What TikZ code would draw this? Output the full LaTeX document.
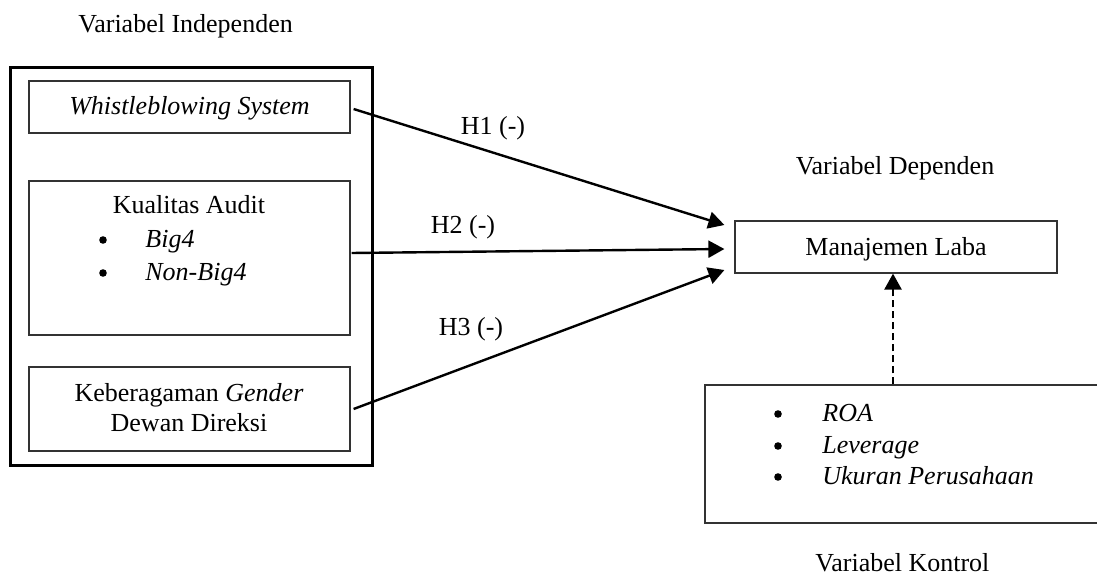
\documentclass[tikz,border=0pt]{standalone}
\usepackage{fontspec}
\setmainfont{Liberation Serif}
\usetikzlibrary{fit,arrows.meta}
\tikzset{
  txt/.style={font=\fontsize{13}{16}\selectfont, inner sep=0pt},
  box/.style={draw=black!80, line width=0.6pt, inner sep=0pt, txt},
  frame/.style={draw=black, line width=1.5pt, inner sep=0pt},
  link/.style={line width=1.2pt, -{Triangle[length=8pt,width=8.5pt]}},
  ctrllink/.style={link, dash pattern=on 3.5pt off 2pt},
  dot/.style={circle, fill=black, inner sep=0pt, minimum size=3.8pt}
}
\begin{document}
\begin{tikzpicture}[x=0.5pt, y=-0.5pt]
\useasboundingbox (0,0) rectangle (1097,576);
\clip (0,0) rectangle (1097,576);

% group titles
\node[txt, anchor=base west] (tind) at (78,33) {Variabel Independen};
\node[txt, anchor=base] (tdep) at (895,175) {Variabel Dependen};
\node[txt, anchor=base west] (tkon) at (815,572) {Variabel Kontrol};

% independent variables
\node[frame, fit={(10,68) (372,466)}] (outer) {};
\node[box, fit={(29,81) (350,133)}] (wb) {};
\node[txt, anchor=base] (wbt) at (189.5,115) {\textit{Whistleblowing System}};

\node[box, fit={(29,181) (350,335)}] (ka) {};
\node[txt, anchor=base] (kat) at (189,214) {Kualitas Audit};
\node[dot] (kab1) at (103,240) {};
\node[txt, anchor=base west] (kai1) at (145,248) {\textit{Big4}};
\node[dot] (kab2) at (103,273) {};
\node[txt, anchor=base west] (kai2) at (145,281) {\textit{Non-Big4}};

\node[box, fit={(29,367) (350,451)}] (kg) {};
\node[txt, anchor=base] (kgt1) at (189,402) {Keberagaman \textit{Gender}};
\node[txt, anchor=base] (kgt2) at (189,432) {Dewan Direksi};

% dependent variable
\node[box, fit={(735,221) (1057,273)}] (ml) {};
\node[txt, anchor=base] (mlt) at (896,256) {Manajemen Laba};

% control variables
\node[box, fit={(705,385) (1120,523)}] (ctrl) {};
\node[dot] (cb1) at (778,414) {};
\node[txt, anchor=base west] (ci1) at (822,422) {\textit{ROA}};
\node[dot] (cb2) at (778,446) {};
\node[txt, anchor=base west] (ci2) at (822,454) {\textit{Leverage}};
\node[dot] (cb3) at (778,477) {};
\node[txt, anchor=base west] (ci3) at (822,485) {\textit{Ukuran Perusahaan}};

% hypotheses
\draw[link] ([xshift=1.5pt,yshift=-1pt]wb.east) -- ([xshift=-5pt,yshift=11pt]ml.west);
\draw[link] ([xshift=0.5pt,yshift=2.5pt]ka.east) -- ([xshift=-5pt,yshift=-1pt]ml.west);
\draw[link] ([xshift=1.5pt]kg.east) -- ([xshift=-5pt,yshift=-11.5pt]ml.west);
\node[txt, anchor=base] (h1) at (493,135) {H1 (-)};
\node[txt, anchor=base] (h2) at (463,234) {H2 (-)};
\node[txt, anchor=base] (h3) at (471,336) {H3 (-)};

% control effect
\draw[ctrllink] ([xshift=-1.5pt]ml.south |- ctrl.north) -- ([xshift=-1.5pt]ml.south);
\end{tikzpicture}
\end{document}
